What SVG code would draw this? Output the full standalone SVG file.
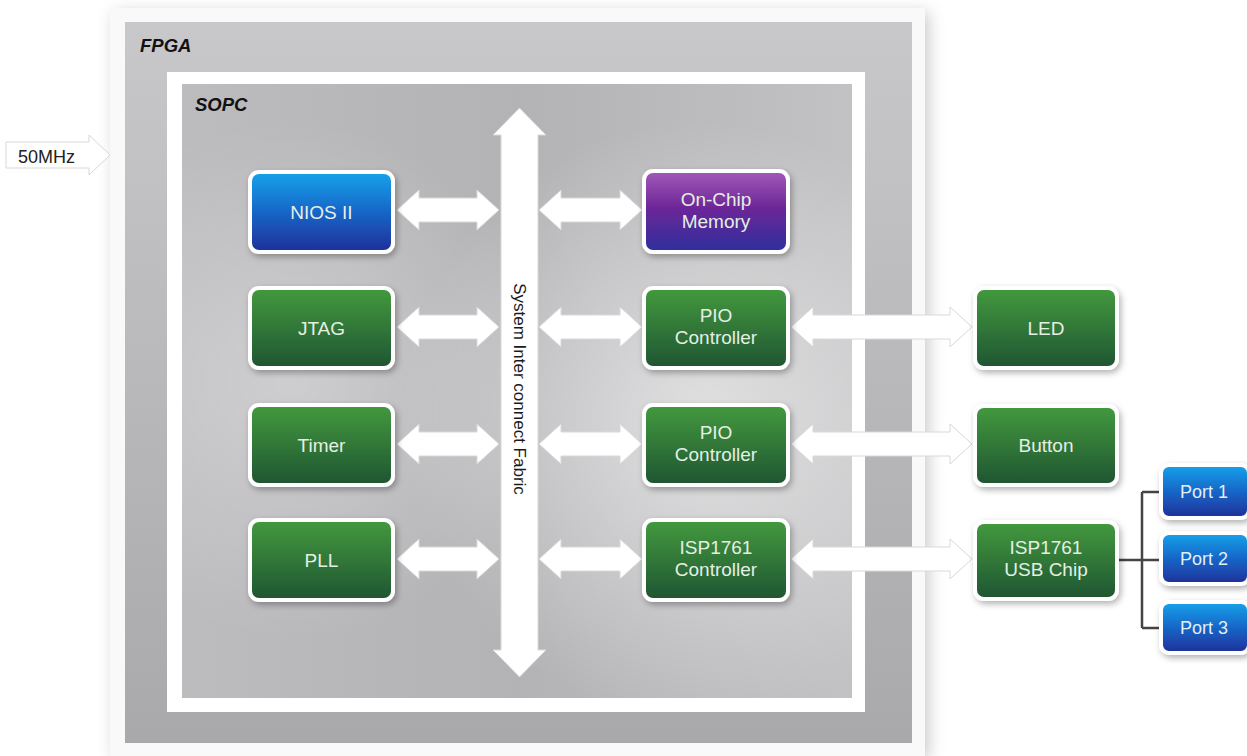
<svg xmlns="http://www.w3.org/2000/svg" width="1247" height="756" viewBox="0 0 1247 756">
<defs>
<linearGradient id="gGreen" x1="0" y1="0" x2="0" y2="1"><stop offset="0" stop-color="#439a3e"/><stop offset="1" stop-color="#1f5432"/></linearGradient>
<linearGradient id="gBlue" x1="0" y1="0" x2="0" y2="1"><stop offset="0" stop-color="#17a3ea"/><stop offset="0.5" stop-color="#1866c8"/><stop offset="1" stop-color="#1e2f98"/></linearGradient>
<linearGradient id="gPurple" x1="0" y1="0" x2="0" y2="1"><stop offset="0" stop-color="#a35ab8"/><stop offset="0.45" stop-color="#6d2798"/><stop offset="1" stop-color="#2c2f9c"/></linearGradient>
<linearGradient id="gFpga" x1="0" y1="0" x2="0" y2="1"><stop offset="0" stop-color="#c8c7ca"/><stop offset="1" stop-color="#a9a9ac"/></linearGradient>
<linearGradient id="gSopc" x1="0" y1="0" x2="1" y2="0"><stop offset="0" stop-color="#bcbcbf"/><stop offset="0.5" stop-color="#b3b3b6"/><stop offset="1" stop-color="#c2c1c3"/></linearGradient>
<radialGradient id="gHi" cx="700" cy="420" r="300" gradientUnits="userSpaceOnUse"><stop offset="0" stop-color="#ffffff" stop-opacity="0.55"/><stop offset="1" stop-color="#ffffff" stop-opacity="0"/></radialGradient>
<radialGradient id="gHi2" cx="290" cy="380" r="260" gradientUnits="userSpaceOnUse"><stop offset="0" stop-color="#ffffff" stop-opacity="0.3"/><stop offset="1" stop-color="#ffffff" stop-opacity="0"/></radialGradient>
<filter id="sh" x="-20%" y="-20%" width="140%" height="150%"><feDropShadow dx="2" dy="3" stdDeviation="3" flood-color="#000" flood-opacity="0.3"/></filter>
<filter id="shBig" x="-10%" y="-10%" width="120%" height="120%"><feDropShadow dx="4" dy="4" stdDeviation="8" flood-color="#000" flood-opacity="0.2"/></filter>
</defs>
<style>
.box{stroke:#ffffff;stroke-width:4;filter:url(#sh)}
.green{fill:url(#gGreen)}
.blue{fill:url(#gBlue)}
.purple{fill:url(#gPurple)}
.lbl{font-family:"Liberation Sans",Arial,sans-serif;font-size:19px;fill:#e4efe4;text-anchor:middle}
.plbl{font-family:"Liberation Sans",Arial,sans-serif;font-size:18px;fill:#e4eef4;text-anchor:middle}
.title{font-family:"Liberation Sans",Arial,sans-serif;font-size:18.5px;font-weight:bold;font-style:italic;fill:#111}
.arrow{fill:#ffffff;stroke:#d8d8da;stroke-width:1}
.wire{fill:none;stroke:#444444;stroke-width:2.5}
</style>
<rect width="1247" height="756" fill="#ffffff"/>

<g id="fpga">
<rect x="110" y="8" width="815" height="748" fill="#f9f9f9" filter="url(#shBig)"/>
<rect x="125" y="22" width="787" height="721" fill="url(#gFpga)"/>
<text class="title" x="140" y="52">FPGA</text>
</g>

<g id="sopc">
<rect x="167" y="72" width="698" height="640" fill="#ffffff"/>
<rect x="182" y="84" width="670" height="614" fill="url(#gSopc)"/>
<rect x="182" y="84" width="670" height="614" fill="url(#gHi)"/>
<rect x="182" y="84" width="670" height="614" fill="url(#gHi2)"/>
<text class="title" x="195" y="111">SOPC</text>
</g>

<g id="clock">
<path class="arrow" d="M6,142 L89,142 L89,135 L110,155 L89,175 L89,168 L6,168 Z"/>
<text x="18" y="163" font-family="Liberation Sans, Arial, sans-serif" font-size="18" fill="#222">50MHz</text>
</g>

<g id="connectors">
<path class="arrow" d="M519.5,108 L546,135 L538,135 L538,650 L546,650 L519.5,677 L493,650 L501,650 L501,135 L493,135 Z"/>
<text transform="translate(519.5,389) rotate(90)" y="6" text-anchor="middle" font-family="Liberation Sans, Arial, sans-serif" font-size="17" fill="#1a1a1a">System Inter connect Fabric</text>
<path class="arrow" d="M397,210 L419,190 L419,198 L477,198 L477,190 L499,210 L477,230 L477,222 L419,222 L419,230 Z"/>
<path class="arrow" d="M397,327 L419,307 L419,315 L477,315 L477,307 L499,327 L477,347 L477,339 L419,339 L419,347 Z"/>
<path class="arrow" d="M397,444 L419,424 L419,432 L477,432 L477,424 L499,444 L477,464 L477,456 L419,456 L419,464 Z"/>
<path class="arrow" d="M397,559 L419,539 L419,547 L477,547 L477,539 L499,559 L477,579 L477,571 L419,571 L419,579 Z"/>
<path class="arrow" d="M539,210 L561,190 L561,198 L620,198 L620,190 L642,210 L620,230 L620,222 L561,222 L561,230 Z"/>
<path class="arrow" d="M539,327 L561,307 L561,315 L620,315 L620,307 L642,327 L620,347 L620,339 L561,339 L561,347 Z"/>
<path class="arrow" d="M539,444 L561,424 L561,432 L620,432 L620,424 L642,444 L620,464 L620,456 L561,456 L561,464 Z"/>
<path class="arrow" d="M539,559 L561,539 L561,547 L620,547 L620,539 L642,559 L620,579 L620,571 L561,571 L561,579 Z"/>
<path class="arrow" d="M791,327 L813,307 L813,315 L950,315 L950,307 L972,327 L950,347 L950,339 L813,339 L813,347 Z"/>
<path class="arrow" d="M791,444 L813,424 L813,432 L950,432 L950,424 L972,444 L950,464 L950,456 L813,456 L813,464 Z"/>
<path class="arrow" d="M791,559 L813,539 L813,547 L950,547 L950,539 L972,559 L950,579 L950,571 L813,571 L813,579 Z"/>
<path class="wire" d="M1117,560 L1142,560 M1142,492 L1142,628 M1142,492 L1161,492 M1142,560 L1161,560 M1142,628 L1161,628"/>
</g>

<g id="nios"><rect class="box blue" x="250" y="172" width="143" height="80" rx="9"/><text class="lbl" x="321.5" y="219">NIOS II</text></g>
<g id="jtag"><rect class="box green" x="250" y="288" width="143" height="80" rx="9"/><text class="lbl" x="321.5" y="335">JTAG</text></g>
<g id="timer"><rect class="box green" x="250" y="405" width="143" height="80" rx="9"/><text class="lbl" x="321.5" y="452">Timer</text></g>
<g id="pll"><rect class="box green" x="250" y="520" width="143" height="80" rx="9"/><text class="lbl" x="321.5" y="567">PLL</text></g>

<g id="onchip"><rect class="box purple" x="644" y="171" width="144" height="81" rx="9"/><text class="lbl" x="716" y="206">On-Chip</text><text class="lbl" x="716" y="228">Memory</text></g>
<g id="pio1"><rect class="box green" x="644" y="288" width="144" height="80" rx="9"/><text class="lbl" x="716" y="322">PIO</text><text class="lbl" x="716" y="344">Controller</text></g>
<g id="pio2"><rect class="box green" x="644" y="405" width="144" height="80" rx="9"/><text class="lbl" x="716" y="439">PIO</text><text class="lbl" x="716" y="461">Controller</text></g>
<g id="ispctrl"><rect class="box green" x="644" y="520" width="144" height="80" rx="9"/><text class="lbl" x="716" y="554">ISP1761</text><text class="lbl" x="716" y="576">Controller</text></g>

<g id="led"><rect class="box green" x="975" y="288" width="142" height="80" rx="9"/><text class="lbl" x="1046" y="335">LED</text></g>
<g id="button"><rect class="box green" x="975" y="406" width="142" height="79" rx="9"/><text class="lbl" x="1046" y="452">Button</text></g>
<g id="usbchip"><rect class="box green" x="975" y="522" width="142" height="77" rx="9"/><text class="lbl" x="1046" y="554">ISP1761</text><text class="lbl" x="1046" y="576">USB Chip</text></g>

<g id="port1"><rect class="box blue" x="1161" y="465" width="88" height="53" rx="8"/><text class="plbl" x="1204" y="498">Port 1</text></g>
<g id="port2"><rect class="box blue" x="1161" y="533" width="88" height="51" rx="8"/><text class="plbl" x="1204" y="565">Port 2</text></g>
<g id="port3"><rect class="box blue" x="1161" y="602" width="88" height="51" rx="8"/><text class="plbl" x="1204" y="634">Port 3</text></g>
</svg>
